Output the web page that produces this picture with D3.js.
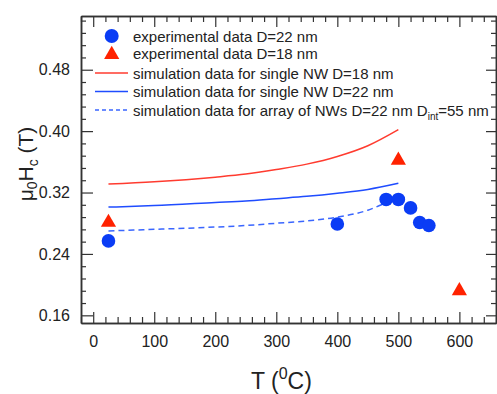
<!DOCTYPE html>
<html lang="en">
<head>
<meta charset="UTF-8">
<title>Hc vs T</title>
<script src="https://cdn.jsdelivr.net/npm/d3@7"></script>
<style>
  body { margin: 0; background: #fff; }
  svg text { font-family: "Liberation Sans", Arial, sans-serif; fill: #222; }
  .axis path { stroke: #333; stroke-width: 1.5; }
  .axis line { stroke: #333; stroke-width: 1.2; }
</style>
</head>
<body>
<div id="chart"></div>
<script>
// experimental data
var expD22T = [25, 400, 480, 500, 520, 535, 550];
var expD22H = [0.257, 0.279, 0.311, 0.311, 0.300, 0.281, 0.277];
var expD18T = [25, 500, 600];
var expD18H = [0.281, 0.362, 0.192];
// simulations
var simT = [25, 100, 200, 250, 300, 350, 400, 450, 500];
var simD18 = [0.331, 0.334, 0.340, 0.344, 0.350, 0.357, 0.367, 0.381, 0.402];
var simD22 = [0.301, 0.303, 0.307, 0.309, 0.312, 0.315, 0.319, 0.324, 0.332];
var arrT = [25, 100, 200, 250, 300, 350, 400, 450, 478];
var arrD22 = [0.270, 0.272, 0.275, 0.277, 0.280, 0.283, 0.288, 0.297, 0.306];
var xTicks = [0, 100, 200, 300, 400, 500, 600];
var yTicks = [0.16, 0.24, 0.32, 0.40, 0.48];
var legendLabels = [
    "experimental data D=22 nm",
    "experimental data D=18 nm",
    "simulation data for single NW D=18 nm",
    "simulation data for single NW D=22 nm",
    "simulation data for array of NWs D=22 nm D|int|=55 nm"
];

var width = 497, height = 394;
var box = {left: 81, right: 496, top: 16, bottom: 323};
var blue = "#0a3cf5", red = "#ff2200";

var svg = d3.select("#chart").append("svg")
    .attr("width", width)
    .attr("height", height);

var x = d3.scaleLinear().domain([-20, 660]).range([box.left, box.right]);
var y = d3.scaleLinear().domain([0.15, 0.55]).range([box.bottom, box.top]);

var xMinor = d3.range(-20, 661, 20).filter(function (d) { return d % 100 !== 0; });
var yMinor = d3.range(0.16, 0.55, 0.016).filter(function (d) {
    return Math.abs(Math.round(d / 0.08) * 0.08 - d) > 0.001;
});

// bottom
svg.append("g").attr("class", "axis")
    .attr("transform", "translate(0," + box.bottom + ")")
    .call(d3.axisBottom(x).tickValues(xTicks).tickSize(-11).tickPadding(13).tickSizeOuter(0))
    .call(function (g) { g.selectAll("text").style("font-size", "16px"); });
svg.append("g").attr("class", "axis")
    .attr("transform", "translate(0," + box.bottom + ")")
    .call(d3.axisBottom(x).tickValues(xMinor).tickSize(-6).tickFormat("").tickSizeOuter(0));
// top
svg.append("g").attr("class", "axis")
    .attr("transform", "translate(0," + box.top + ")")
    .call(d3.axisTop(x).tickValues(xTicks).tickSize(-11).tickFormat("").tickSizeOuter(0));
svg.append("g").attr("class", "axis")
    .attr("transform", "translate(0," + box.top + ")")
    .call(d3.axisTop(x).tickValues(xMinor).tickSize(-6).tickFormat("").tickSizeOuter(0));
// left
svg.append("g").attr("class", "axis")
    .attr("transform", "translate(" + box.left + ",0)")
    .call(d3.axisLeft(y).tickValues(yTicks).tickSize(-12).tickPadding(11).tickSizeOuter(0)
        .tickFormat(d3.format(".2f")))
    .call(function (g) { g.selectAll("text").style("font-size", "16px"); });
svg.append("g").attr("class", "axis")
    .attr("transform", "translate(" + box.left + ",0)")
    .call(d3.axisLeft(y).tickValues(yMinor).tickSize(-5).tickFormat("").tickSizeOuter(0));
// right
svg.append("g").attr("class", "axis")
    .attr("transform", "translate(" + box.right + ",0)")
    .call(d3.axisRight(y).tickValues(yTicks).tickSize(-10).tickFormat("").tickSizeOuter(0));
svg.append("g").attr("class", "axis")
    .attr("transform", "translate(" + box.right + ",0)")
    .call(d3.axisRight(y).tickValues(yMinor).tickSize(-5).tickFormat("").tickSizeOuter(0));

// simulation curves
var line = d3.line()
    .x(function (d) { return x(d[0]); })
    .y(function (d) { return y(d[1]); })
    .curve(d3.curveMonotoneX);

svg.append("path").datum(d3.zip(simT, simD18))
    .attr("d", line).attr("fill", "none")
    .attr("stroke", "#ff3b2f").attr("stroke-width", 1.5);
svg.append("path").datum(d3.zip(simT, simD22))
    .attr("d", line).attr("fill", "none")
    .attr("stroke", "#1f4cff").attr("stroke-width", 1.5);
svg.append("path").datum(d3.zip(arrT, arrD22))
    .attr("d", line).attr("fill", "none")
    .attr("stroke", "#3a66ff").attr("stroke-width", 1.5)
    .attr("stroke-dasharray", "6,4");

// experimental points
var tri = d3.symbol().type(d3.symbolTriangle).size(100);
svg.selectAll("circle.d22")
    .data(d3.zip(expD22T, expD22H))
    .enter().append("circle")
    .attr("class", "d22")
    .attr("cx", function (d) { return x(d[0]); })
    .attr("cy", function (d) { return y(d[1]); })
    .attr("r", 6.8)
    .attr("fill", blue);
svg.selectAll("path.d18")
    .data(d3.zip(expD18T, expD18H))
    .enter().append("path")
    .attr("class", "d18")
    .attr("d", tri)
    .attr("transform", function (d) { return "translate(" + x(d[0]) + "," + y(d[1]) + ")"; })
    .attr("fill", red);

// legend
var rowY = [36, 53.5, 73, 91.5, 110];
var lg = svg.append("g");
lg.append("circle").attr("cx", 111.7).attr("cy", rowY[0]).attr("r", 7).attr("fill", blue);
lg.append("path").attr("d", tri).attr("transform", "translate(111.7," + (rowY[1] + 1) + ")").attr("fill", red);
var sampleStyles = [["#ff3b2f", null], ["#1f4cff", null], ["#3a66ff", "4,3"]];
sampleStyles.forEach(function (s, i) {
    lg.append("line")
        .attr("x1", 95).attr("x2", 128)
        .attr("y1", rowY[i + 2]).attr("y2", rowY[i + 2])
        .attr("stroke", s[0]).attr("stroke-width", 1.5)
        .attr("stroke-dasharray", s[1]);
});
legendLabels.forEach(function (lab, i) {
    var t = lg.append("text")
        .attr("x", 133).attr("y", rowY[i] + 5.5)
        .style("font-size", "15px");
    lab.split("|").forEach(function (part, j) {
        var ts = t.append("tspan").text(part);
        if (j === 1) ts.attr("dy", 4).style("font-size", "10px");
        if (j === 2) ts.attr("dy", -4);
    });
});

// axis titles
var xt = svg.append("text")
    .attr("x", 251).attr("y", 389)
    .style("font-size", "23px");
xt.append("tspan").text("T (");
xt.append("tspan").attr("dy", -10).style("font-size", "16px").text("0");
xt.append("tspan").attr("dy", 10).text("C)");

var yt = svg.append("text")
    .attr("transform", "translate(33,164) rotate(-90)")
    .attr("text-anchor", "middle")
    .style("font-size", "21px");
yt.append("tspan").text("\u03bc");
yt.append("tspan").attr("dy", 4).style("font-size", "14px").text("0");
yt.append("tspan").attr("dy", -4).text("H");
yt.append("tspan").attr("dy", 5).style("font-size", "14px").text("c");
yt.append("tspan").attr("dy", -5).text(" (T)");
</script>
</body>
</html>
